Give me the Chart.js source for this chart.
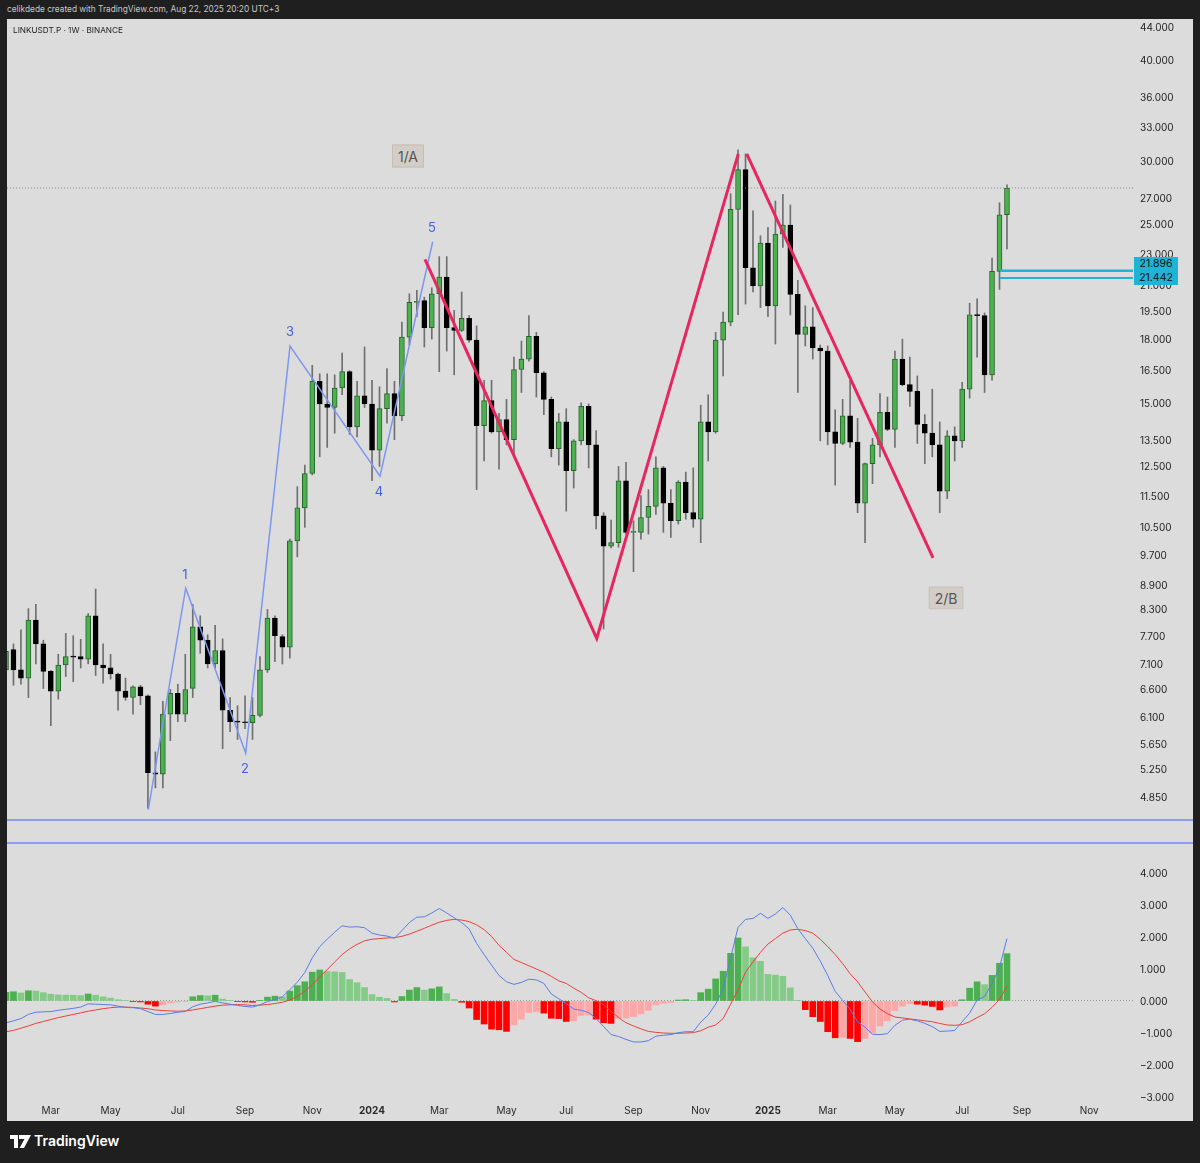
<!DOCTYPE html>
<html lang="en">
<head>
<meta charset="UTF-8">
<title>LINKUSDT.P 1W</title>
<script src="https://cdn.jsdelivr.net/npm/chart.js"></script>
<style>
body {
    margin: 0;
    width: 1200px;
    height: 1163px;
    background: #1f1f1f;
    position: relative;
    overflow: hidden;
    font-family: Inter, "Noto Sans", sans-serif;
}
.panel { position: absolute; left: 7px; top: 19px; width: 1186px; height: 1102px; background: #dcdcdc; }
.pane { position: absolute; left: 7px; }
.sep { position: absolute; left: 7px; width: 1186px; height: 2px; background: #8d9ef0; }
.header { position: absolute; left: 7px; top: 4px; font-size: 8.3px; color: #c8c8c8; }
.title { position: absolute; left: 13px; top: 25px; font-size: 8.2px; color: #222; }
.wave { position: absolute; color: #3f63e0; font-size: 13px; transform: translate(-50%, -50%); }
.note {
    position: absolute; font-size: 14px; color: #555; background: #d2cdc6;
    border: 1px solid #c4beb4; padding: 2px 5px; transform: translate(-50%, -50%);
}
.tag {
    position: absolute; left: 1134px; top: 257px; width: 44px; height: 28px;
    background: #1fb3d5; color: #111; font-size: 10.5px; line-height: 13.5px; text-align: center;
}
.logo { position: absolute; left: 10px; top: 1132px; display: flex; align-items: center; color: #fff; font-size: 14px; font-weight: 600; }
</style>
</head>
<body>
<div class="header">celikdede created with TradingView.com, Aug 22, 2025 20:20 UTC+3</div>
<div class="panel"></div>
<div class="pane" style="top:19px"><canvas id="priceChart" width="1186" height="800"></canvas></div>
<div class="sep" style="top:819px"></div>
<div class="sep" style="top:842px"></div>
<div class="pane" style="top:844px"><canvas id="macdChart" width="1186" height="277"></canvas></div>

<div class="title">LINKUSDT.P · 1W · BINANCE</div>
<div class="note" style="left:408px;top:156px">1/A</div>
<div class="note" style="left:946px;top:598px">2/B</div>
<div class="wave" style="left:185px;top:574px">1</div>
<div class="wave" style="left:245px;top:768px">2</div>
<div class="wave" style="left:290px;top:331px">3</div>
<div class="wave" style="left:379px;top:491px">4</div>
<div class="wave" style="left:432px;top:227px">5</div>
<div class="tag">21.896<br>21.442</div>
<div class="logo">
    <svg width="22" height="16" viewBox="0 0 22 16"><path d="M0 2h8v13H4V6H0z M9 2h12l-7 13h-4.5l5-9H9z" fill="#fff"/><circle cx="11" cy="4" r="2" fill="#fff"/></svg>
    <span style="margin-left:2px">TradingView</span>
</div>

<script>
// weekly bars, first bar = week of 2023-01-23
const opens = [6.98,7.40,6.98,6.82,8.05,7.52,6.95,6.57,7.08,7.25,
    7.25,7.20,8.15,7.08,7.02,6.90,6.57,6.45,6.65,6.48,
    5.20,5.18,6.15,6.53,6.15,6.62,7.90,7.60,7.10,7.38,
    6.22,6.02,6.01,6.00,6.13,6.98,8.10,7.68,7.45,10.10,
    11.10,12.25,15.95,14.95,14.80,15.65,16.40,14.00,15.30,14.95,
    13.10,14.75,15.40,14.45,18.10,20.00,20.10,18.60,20.50,21.50,
    18.60,18.45,19.10,17.95,14.05,15.10,13.80,14.30,13.50,16.50,
    17.00,18.15,16.35,15.15,13.15,14.20,12.35,13.45,14.85,13.30,
    10.85,9.95,10.05,12.00,10.35,10.35,10.80,11.15,12.45,11.25,
    10.70,11.95,10.95,10.75,14.20,13.80,17.95,18.90,26.10,29.25,
    22.08,20.96,23.70,19.80,24.32,24.95,20.46,18.25,18.65,17.55,
    17.40,13.80,13.35,14.45,13.40,11.25,12.60,13.30,14.60,13.90,
    17.00,15.80,15.50,14.10,13.75,13.30,11.65,13.65,13.45,15.60,
    19.30,19.25,16.25,21.85,25.70];
const highs = [7.50,7.52,7.83,8.32,8.42,7.60,6.97,7.30,7.75,7.70,
    7.62,8.20,8.80,7.52,7.30,6.92,6.82,6.67,6.68,6.50,
    5.52,6.38,6.60,6.70,7.30,8.42,8.15,7.72,7.93,7.63,
    6.45,6.30,6.48,6.45,7.25,8.30,8.15,7.72,10.15,11.80,
    12.55,16.70,16.30,16.30,16.25,17.30,16.45,15.95,17.60,16.00,
    15.70,16.55,15.95,18.90,20.50,20.70,20.30,20.85,22.80,22.80,
    19.55,20.60,19.25,18.70,16.00,16.00,14.55,15.15,17.10,17.90,
    19.25,18.35,16.40,15.25,14.55,14.75,13.50,15.00,14.95,13.85,
    10.95,10.72,12.50,12.65,10.70,11.50,11.70,12.85,12.50,11.70,
    12.00,12.30,12.45,14.90,15.35,18.35,19.45,27.30,30.95,30.60,
    26.00,24.20,24.80,26.73,27.25,26.43,21.30,19.80,19.70,17.70,
    17.65,14.70,15.15,16.00,14.35,12.62,13.55,15.40,15.25,17.40,
    18.00,17.10,16.20,14.50,15.60,14.20,13.85,14.00,15.90,19.95,
    20.20,19.40,22.70,26.60,28.00];
const lows = [6.85,6.68,6.70,6.45,7.10,6.62,5.95,6.42,6.85,6.75,
    7.02,7.10,6.87,6.72,6.80,6.22,6.40,6.15,6.32,4.70,
    4.98,4.98,5.70,6.02,6.02,6.45,7.32,7.02,7.02,5.57,
    5.85,5.72,5.90,5.72,6.10,6.93,7.15,7.10,7.22,9.65,
    10.50,12.20,12.85,13.20,13.75,15.35,13.70,13.60,14.80,12.00,
    12.50,14.15,13.50,14.25,17.70,19.20,17.60,18.00,16.40,17.40,
    16.25,18.40,17.85,11.70,12.70,13.75,12.40,13.30,12.85,15.45,
    16.90,15.25,14.50,12.85,12.55,11.00,11.75,13.30,12.45,10.45,
    7.85,9.90,9.92,10.30,9.25,10.15,10.30,10.90,10.35,10.20,
    10.60,10.75,10.50,10.05,12.70,13.75,16.20,18.70,19.30,19.90,
    20.60,19.70,19.20,17.75,23.41,19.29,15.45,17.65,17.00,13.45,
    13.30,11.85,13.30,13.20,10.95,10.05,11.90,12.85,13.85,13.20,
    15.75,14.85,13.35,12.60,12.85,10.95,11.40,12.70,13.20,15.20,
    17.10,15.45,16.00,20.75,23.30];
const closes = [7.36,6.98,6.82,8.05,7.52,6.95,6.57,7.08,7.25,7.24,
    7.20,8.15,7.08,7.02,6.90,6.57,6.45,6.65,6.48,5.20,
    5.18,6.15,6.53,6.15,6.60,7.90,7.60,7.10,7.38,6.22,
    6.02,6.01,6.00,6.13,6.98,8.10,7.70,7.45,10.10,11.10,
    12.25,15.95,14.95,14.80,15.65,16.40,14.00,15.30,14.95,13.10,
    14.75,15.40,14.45,18.10,20.00,20.05,18.60,20.50,21.50,18.60,
    18.45,19.10,17.95,14.05,15.10,13.80,14.30,13.50,16.50,17.00,
    18.15,16.35,15.15,13.15,14.20,12.35,13.45,14.85,13.30,10.85,
    9.95,10.05,12.00,10.35,10.38,10.80,11.15,12.45,11.25,10.70,
    11.95,10.95,10.75,14.20,13.80,17.95,18.90,26.10,29.25,22.08,
    20.96,23.70,19.80,24.32,24.95,20.46,18.25,18.65,17.55,17.40,
    13.80,13.35,14.45,13.40,11.25,12.60,13.30,14.60,13.90,17.00,
    15.80,15.50,14.10,13.75,13.30,11.65,13.65,13.45,15.60,19.30,
    19.25,16.25,21.85,25.70,27.75];

const macdLine = [-0.68,-0.62,-0.55,-0.42,-0.35,-0.34,-0.33,-0.29,-0.26,-0.23,
    -0.19,-0.09,-0.10,-0.11,-0.12,-0.16,-0.20,-0.21,-0.24,-0.33,
    -0.42,-0.42,-0.39,-0.35,-0.33,-0.18,-0.10,-0.06,-0.01,-0.06,
    -0.10,-0.14,-0.17,-0.19,-0.12,-0.02,0.05,0.13,0.35,0.59,
    0.89,1.35,1.70,1.93,2.15,2.35,2.31,2.32,2.29,2.12,
    2.06,2.03,1.96,2.20,2.45,2.62,2.63,2.75,2.89,2.75,
    2.60,2.45,2.25,1.80,1.45,1.12,0.80,0.60,0.52,0.58,
    0.68,0.66,0.55,0.22,0.07,-0.08,-0.25,-0.29,-0.36,-0.55,
    -0.80,-1.05,-1.11,-1.20,-1.28,-1.28,-1.24,-1.10,-1.07,-1.05,
    -0.99,-0.96,-0.96,-0.66,-0.44,-0.10,0.38,1.35,2.30,2.55,
    2.58,2.74,2.58,2.72,2.92,2.68,2.26,1.95,1.65,1.25,
    0.80,0.30,0.02,-0.26,-0.65,-0.82,-1.04,-1.05,-1.02,-0.76,
    -0.60,-0.57,-0.62,-0.70,-0.80,-0.95,-0.94,-0.92,-0.65,-0.38,
    0.03,0.14,0.55,1.05,1.95];
const signalLine = [-0.96,-0.92,-0.85,-0.78,-0.70,-0.64,-0.58,-0.52,-0.47,-0.42,
    -0.37,-0.32,-0.28,-0.24,-0.21,-0.19,-0.19,-0.20,-0.22,-0.24,
    -0.28,-0.30,-0.31,-0.32,-0.31,-0.28,-0.24,-0.20,-0.16,-0.13,
    -0.12,-0.11,-0.12,-0.14,-0.13,-0.11,-0.08,-0.04,0.03,0.15,
    0.30,0.52,0.75,0.98,1.22,1.45,1.63,1.77,1.88,1.93,
    1.95,1.97,1.98,2.02,2.09,2.18,2.27,2.37,2.46,2.52,
    2.55,2.53,2.48,2.38,2.23,2.02,1.74,1.52,1.30,1.20,
    1.10,1.00,0.90,0.77,0.63,0.55,0.40,0.27,0.10,0.01,
    -0.12,-0.32,-0.52,-0.68,-0.78,-0.87,-0.95,-0.98,-1.00,-1.01,
    -1.01,-1.00,-0.99,-0.93,-0.82,-0.75,-0.55,-0.10,0.35,0.90,
    1.22,1.52,1.78,1.95,2.12,2.22,2.24,2.20,2.12,1.93,
    1.70,1.45,1.17,0.85,0.60,0.28,-0.03,-0.25,-0.40,-0.50,
    -0.53,-0.56,-0.59,-0.62,-0.65,-0.70,-0.75,-0.76,-0.74,-0.65,
    -0.52,-0.40,-0.20,0.05,0.47];
const histogram = [0.27,0.29,0.25,0.32,0.31,0.26,0.21,0.19,0.185,0.18,
    0.17,0.22,0.18,0.13,0.09,0.04,0.02,-0.02,-0.03,-0.10,
    -0.16,-0.12,-0.06,-0.03,-0.01,0.13,0.17,0.16,0.18,0.06,
    0.01,-0.02,-0.03,-0.04,0.01,0.12,0.15,0.13,0.31,0.48,
    0.60,0.90,0.97,0.92,0.91,0.89,0.67,0.57,0.42,0.20,
    0.12,0.08,-0.03,0.14,0.34,0.42,0.34,0.38,0.44,0.23,
    0.05,-0.04,-0.22,-0.58,-0.72,-0.88,-0.90,-0.95,-0.75,-0.57,
    -0.36,-0.34,-0.38,-0.54,-0.55,-0.64,-0.62,-0.45,-0.44,-0.57,
    -0.68,-0.70,-0.54,-0.53,-0.49,-0.40,-0.29,-0.12,-0.07,-0.05,
    0.03,0.04,0.02,0.26,0.37,0.69,0.93,1.49,1.97,1.69,
    1.35,1.24,0.83,0.81,0.77,0.41,0.01,-0.27,-0.49,-0.64,
    -0.96,-1.15,-1.14,-1.17,-1.27,-1.17,-1.00,-0.78,-0.62,-0.30,
    -0.16,-0.08,-0.10,-0.13,-0.17,-0.28,-0.19,-0.16,0.04,0.40,
    0.60,0.51,0.80,1.18,1.48];

const priceTicks = [44,40,36,33,30,27,25,23,21,19.5,18,16.5,15,13.5,12.5,11.5,10.5,9.7,8.9,8.3,7.7,7.1,6.6,6.1,5.65,5.25,4.85];
const macdTicks = [4,3,2,1,0,-1,-2,-3];
const monthTicks = [6,14,23,32,41,49,58,67,75,84,93,102,110,119,128,136,145];
const monthLabels = ['Mar','May','Jul','Sep','Nov','2024','Mar','May','Jul','Sep','Nov','2025','Mar','May','Jul','Sep','Nov'];

// drawings: elliott count, A-B zigzag, levels
const waveWeeks = [19.05, 24.06, 32.09, 38.02, 50.07, 57.12];
const wavePrices = [4.68, 8.82, 5.50, 17.65, 12.16, 23.79];
const zigWeeks = [56.09, 79.08, 98.03];
const zigPrices = [22.62, 7.64, 30.59];
const legWeeks = [99.16, 124.1];
const legPrices = [30.59, 9.62];
const levels = [21.896, 21.442];
const levelFrom = 133.07;

const xMin = 0.134, xMax = 150.87;
const weeks = opens.map((o, i) => i);
const up = closes.map((c, i) => c >= opens[i]);
const pts = (xs, ys) => xs.map((x, i) => ({x: x, y: ys[i]}));
const lastClose = closes[closes.length - 1];

function flatLine(v, from, color, width, dash) {
    return {
        type: 'line', data: [{x: from, y: v}, {x: xMax, y: v}],
        borderColor: color, borderWidth: width, borderDash: dash || [],
        pointRadius: 0, order: 0
    };
}

let axisFont = {size: 10, family: 'Inter'};

new Chart(document.getElementById('priceChart'), {
    type: 'bar',
    data: {
        datasets: [
            {type: 'line', data: pts(waveWeeks, wavePrices), borderColor: '#7d97ef', borderWidth: 1.5, pointRadius: 0, order: 1},
            {type: 'line', data: pts(zigWeeks, zigPrices), borderColor: '#e8265e', borderWidth: 3, pointRadius: 0, order: 0},
            {type: 'line', data: pts(legWeeks, legPrices), borderColor: '#e8265e', borderWidth: 3, pointRadius: 0, order: 0},
            flatLine(levels[0], levelFrom, '#1fb3d5', 2.5),
            flatLine(levels[1], levelFrom, '#1fb3d5', 2),
            flatLine(lastClose, xMin, '#8c8c8c', 1, [1, 2]),
            {
                data: weeks.map(i => ({x: i, y: [opens[i], closes[i]]})),
                backgroundColor: up.map(u => u ? '#4caf50' : '#000'),
                borderColor: up.map(u => u ? '#26652a' : '#000'),
                borderWidth: 1, borderSkipped: false, barThickness: 5,
                grouped: false, minBarLength: 1, order: 2
            },
            {
                data: weeks.map(i => ({x: i, y: [lows[i], highs[i]]})),
                backgroundColor: '#6f6f6f', barThickness: 1, grouped: false, order: 3
            }
        ]
    },
    options: {
        responsive: false,
        animation: false,
        layout: {padding: 0},
        plugins: {legend: {display: false}, tooltip: {enabled: false}},
        scales: {
            x: {type: 'linear', min: xMin, max: xMax, offset: false, bounds: 'data', display: false},
            y: {
                type: 'logarithmic', position: 'right', min: 4.555, max: 45.02, bounds: 'data',
                grid: {display: false, drawTicks: false},
                border: {display: false},
                afterBuildTicks: s => { s.ticks = priceTicks.map(v => ({value: v})); },
                afterFit: s => { s.width = 60; s.paddingTop = 0; s.paddingBottom = 0; },
                ticks: {autoSkip: false, padding: 7, labelOffset: 1, color: '#1e1e1e', font: axisFont, callback: v => Number(v).toFixed(3)}
            }
        }
    }
});

const histColors = histogram.map((h, i) => {
    const prev = i ? histogram[i - 1] : h;
    if (h >= 0) return h >= prev ? '#4caf50' : '#84cb87';
    return h < prev ? '#ff0000' : '#ffa6a6';
});

new Chart(document.getElementById('macdChart'), {
    type: 'bar',
    data: {
        datasets: [
            {type: 'line', data: pts(weeks, macdLine), borderColor: '#5a7de6', borderWidth: 1, pointRadius: 0, order: 0},
            {type: 'line', data: pts(weeks, signalLine), borderColor: '#e8413c', borderWidth: 1, pointRadius: 0, order: 1},
            {data: pts(weeks, histogram), backgroundColor: histColors, barThickness: 6, grouped: false, order: 2}
        ]
    },
    options: {
        responsive: false,
        animation: false,
        layout: {padding: 0},
        plugins: {legend: {display: false}, tooltip: {enabled: false}},
        scales: {
            x: {
                type: 'linear', min: xMin, max: xMax, offset: false, bounds: 'data',
                grid: {display: false, drawTicks: false},
                border: {display: false},
                afterBuildTicks: s => { s.ticks = monthTicks.map(v => ({value: v})); },
                afterFit: s => { s.height = 21; s.paddingLeft = 0; s.paddingRight = 0; },
                ticks: {
                    autoSkip: false, maxRotation: 0, padding: 5, color: '#2a2a2a',
                    font: ctx => ({size: 10, family: 'Inter', weight: /^\d{4}$/.test(monthLabels[ctx.index]) ? 'bold' : 'normal'}),
                    callback: (v, i) => monthLabels[i]
                }
            },
            y: {
                position: 'right', min: -3.094, max: 4.906, bounds: 'data',
                grid: {color: c => (c.tick && c.tick.value === 0) ? '#9a9a9a' : 'rgba(0,0,0,0)', drawTicks: false},
                border: {display: false, dash: [1, 2]},
                afterBuildTicks: s => { s.ticks = macdTicks.map(v => ({value: v})); },
                afterFit: s => { s.width = 60; s.paddingTop = 0; s.paddingBottom = 0; },
                ticks: {autoSkip: false, padding: 7, labelOffset: 1, color: '#1e1e1e', font: axisFont,
                    callback: v => (v < 0 ? '\u2212' : '') + Math.abs(v).toFixed(3)}
            }
        }
    }
});
</script>
</body>
</html>
